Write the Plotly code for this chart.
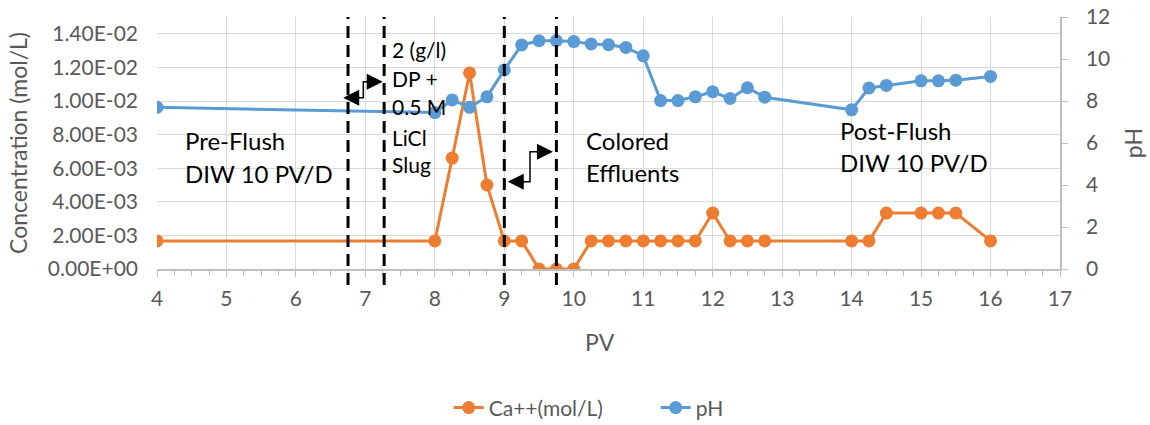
import plotly.graph_objects as go

# ---- data ----
pv_ca = [4, 8, 8.25, 8.5, 8.75, 9, 9.25, 9.5, 9.75, 10, 10.25, 10.5, 10.75, 11, 11.25,
         11.5, 11.75, 12, 12.25, 12.5, 12.75, 14, 14.25, 14.5, 15, 15.25, 15.5, 16]
ca = [0.00167, 0.00167, 0.0066, 0.01167, 0.005, 0.00167, 0.00167, 0.0, 0.0, 0.0, 0.00167,
      0.00167, 0.00167, 0.00167, 0.00167, 0.00167, 0.00167, 0.00333, 0.00167, 0.00167,
      0.00167, 0.00167, 0.00167, 0.00333, 0.00333, 0.00333, 0.00333, 0.00167]

pv_ph = [4, 8, 8.25, 8.5, 8.75, 9, 9.25, 9.5, 9.75, 10, 10.25, 10.5, 10.75, 11, 11.25,
         11.5, 11.75, 12, 12.25, 12.5, 12.75, 14, 14.25, 14.5, 15, 15.25, 15.5, 16]
ph = [7.7, 7.45, 8.05, 7.7, 8.2, 9.48, 10.67, 10.87, 10.87, 10.83, 10.72, 10.68, 10.55,
      10.15, 8.02, 8.02, 8.2, 8.44, 8.12, 8.63, 8.18, 7.58, 8.62, 8.74, 8.96, 8.96,
      8.99, 9.17]

left_tickvals = [0, 0.002, 0.004, 0.006, 0.008, 0.010, 0.012, 0.014]
left_ticktext = ["0.00E+00", "2.00E-03", "4.00E-03", "6.00E-03", "8.00E-03",
                 "1.00E-02", "1.20E-02", "1.40E-02"]
x_ticks = list(range(4, 18))
ph_ticks = [0, 2, 4, 6, 8, 10, 12]

divider_pv = [6.75, 7.27, 9.0, 9.75]

# elbow arrows: (left tip x, left y, elbow x, right y, right tip x)
arrows = [
    (6.68, 0.0102, 6.97, 0.01115, 7.25),
    (9.05, 0.0052, 9.37, 0.00698, 9.70),
]

# text labels: (x, y(concentration), text, size)
labels = [
    (4.37, 0.00765, "Pre-Flush", 24), (4.37, 0.00568, "DIW 10 PV/D", 24),
    (7.35, 0.01305, "2 (g/l)", 21), (7.35, 0.01135, "DP +", 21),
    (7.35, 0.00965, "0.5 M", 21), (7.35, 0.00785, "LiCl", 21),
    (7.35, 0.00625, "Slug", 21),
    (10.15, 0.00765, "Colored", 24), (10.15, 0.00575, "Effluents", 24),
    (13.8, 0.00825, "Post-Flush", 24), (13.8, 0.00635, "DIW 10 PV/D", 24),
]

ORANGE = "#ED7D31"
BLUE = "#5B9BD5"
GRAY = "#595959"
FONT = "Lato"

fig = go.Figure()
fig.add_trace(go.Scatter(x=pv_ca, y=ca, name="Ca++(mol/L)", mode="lines+markers",
                         line=dict(color=ORANGE, width=3),
                         marker=dict(color=ORANGE, size=13), yaxis="y"))
fig.add_trace(go.Scatter(x=pv_ph, y=ph, name="pH", mode="lines+markers",
                         line=dict(color=BLUE, width=3),
                         marker=dict(color=BLUE, size=13), yaxis="y2"))

shapes = []
for xv in divider_pv:
    shapes.append(dict(type="line", xref="x", yref="paper", x0=xv, x1=xv,
                       y0=-0.063, y1=1.0,
                       line=dict(color="black", width=3, dash="12px,7px"),
                       layer="above"))
annotations = []
for (xl, yl, xe, yr, xr) in arrows:
    shapes.append(dict(type="path", xref="x", yref="y",
                       path=f"M {xl+0.12},{yl} L {xe},{yl} L {xe},{yr} L {xr-0.12},{yr}",
                       line=dict(color="black", width=1.5), layer="above"))
    annotations.append(dict(x=xl, y=yl, xref="x", yref="y", ax=18, ay=0,
                            showarrow=True, arrowhead=2, arrowsize=1.6,
                            arrowwidth=2, arrowcolor="black", text=""))
    annotations.append(dict(x=xr, y=yr, xref="x", yref="y", ax=-18, ay=0,
                            showarrow=True, arrowhead=2, arrowsize=1.6,
                            arrowwidth=2, arrowcolor="black", text=""))
for (xv, yv, t, s) in labels:
    annotations.append(dict(x=xv, y=yv, xref="x", yref="y", text=t, showarrow=False,
                            xanchor="left", yanchor="middle",
                            font=dict(family=FONT, size=s, color="black")))

# axis titles
annotations += [
    dict(text="Concentration (mol/L)", xref="paper", yref="paper", x=-0.154, y=0.5,
         textangle=-90, showarrow=False, xanchor="center", yanchor="middle",
         font=dict(family=FONT, size=23, color=GRAY)),
    dict(text="pH", xref="paper", yref="paper", x=1.081, y=0.5,
         textangle=-90, showarrow=False, xanchor="center", yanchor="middle",
         font=dict(family=FONT, size=23, color=GRAY)),
    dict(text="PV", xref="paper", yref="paper", x=0.4906, y=-0.29,
         showarrow=False, xanchor="center", yanchor="middle",
         font=dict(family=FONT, size=23, color=GRAY)),
]

fig.update_layout(
    width=1150, height=425,
    margin=dict(l=157, r=90, t=17, b=156, autoexpand=False),
    paper_bgcolor="white", plot_bgcolor="white",
    font=dict(family=FONT, color=GRAY),
    showlegend=True,
    legend=dict(orientation="h", x=0.323, xanchor="left", y=-0.47, yanchor="top",
                font=dict(size=21, color=GRAY), entrywidth=162,
                entrywidthmode="pixels"),
    xaxis=dict(range=[4, 17], tickvals=x_ticks, ticktext=[str(v) for v in x_ticks],
               showgrid=True, gridcolor="#D9D9D9", gridwidth=1,
               showline=True, linecolor="#BFBFBF", linewidth=1.5,
               ticks="outside", ticklen=6, tickcolor="#BFBFBF",
               minor=dict(ticks="outside", ticklen=5, dtick=0.25, tick0=4,
                          tickcolor="#BFBFBF", showgrid=False),
               tickfont=dict(size=21, color=GRAY), zeroline=False,
               ticklabelstandoff=4, automargin=False),
    xaxis2=dict(range=[4, 17], overlaying="x", anchor="y", side="bottom",
                tickvals=x_ticks, showticklabels=False, showgrid=False,
                showline=False, zeroline=False, automargin=False,
                ticks="inside", ticklen=6, tickcolor="#BFBFBF",
                minor=dict(ticks="inside", ticklen=5, dtick=0.25, tick0=4,
                           tickcolor="#BFBFBF", showgrid=False)),
    yaxis=dict(range=[0, 0.015], tickvals=left_tickvals, ticktext=left_ticktext,
               showgrid=True, gridcolor="#D9D9D9", gridwidth=1, zeroline=False,
               showline=False, ticks="", tickfont=dict(size=21, color=GRAY),
               ticklabelstandoff=18, automargin=False),
    yaxis2=dict(range=[0, 12], tickvals=ph_ticks, overlaying="y", side="right",
                showgrid=False, zeroline=False, showline=True, linecolor="#BFBFBF",
                linewidth=1.5, ticks="outside", ticklen=6, tickcolor="#BFBFBF",
                tickfont=dict(size=21, color=GRAY), ticklabelstandoff=14,
                automargin=False),
    shapes=shapes,
    annotations=annotations,
)

fig.write_html("out.html")
